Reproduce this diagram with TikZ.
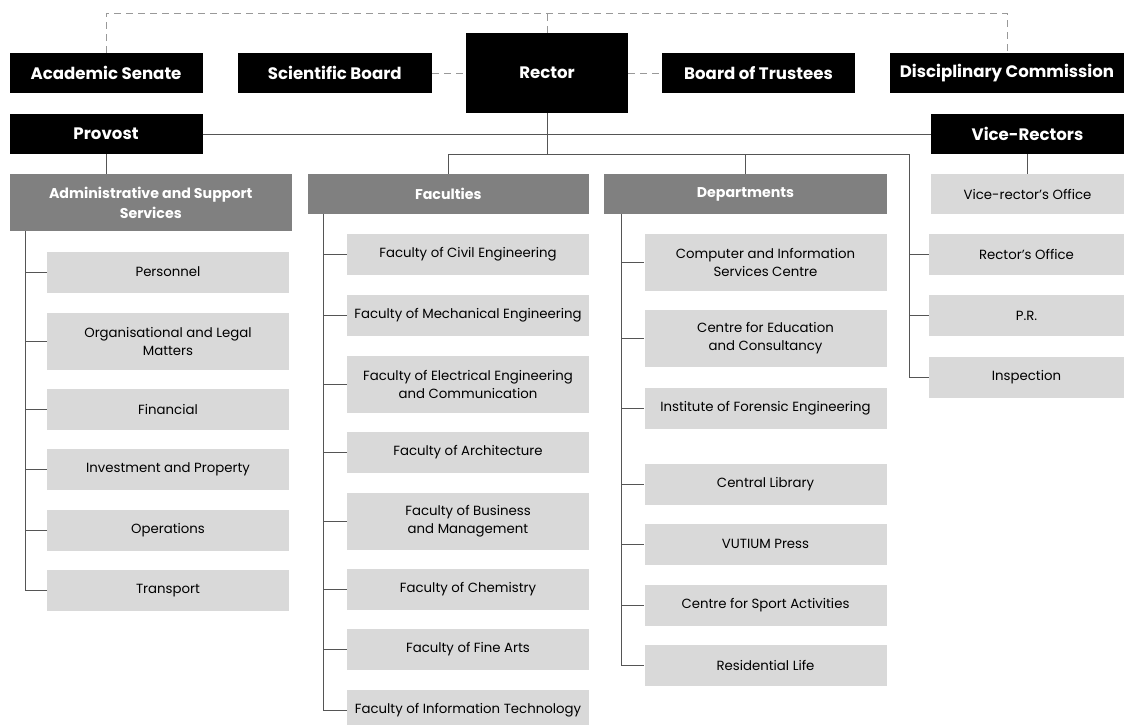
\documentclass[tikz,border=0pt]{standalone}
\usepackage{fontspec}
\setmainfont{Poppins}
\definecolor{hdrgray}{HTML}{808080}
\definecolor{ltgray}{HTML}{D9D9D9}
\definecolor{lnline}{HTML}{555555}
\definecolor{dashline}{HTML}{999999}
\tikzset{
  blk/.style={fill=black, text=white, inner sep=0pt, align=center, font=\bfseries\fontsize{16.6}{20}\selectfont},
  hdr/.style={fill=hdrgray, text=white, inner sep=0pt, align=center, font=\bfseries\fontsize{14.2}{20}\selectfont},
  lt/.style={fill=ltgray, text=black, inner sep=0pt, align=center, minimum width=242pt, font=\fontsize{13.3}{18}\selectfont},
  h40/.style={minimum height=41pt},
  h57/.style={minimum height=57pt},
  conn/.style={draw=lnline, line width=0.9pt},
  dconn/.style={draw=dashline, line width=0.9pt, dash pattern=on 7pt off 5pt},
}
\begin{document}
\begin{tikzpicture}[x=1pt, y=-1pt]
\useasboundingbox (0,0) rectangle (1124,725);
% top row
\node[blk, minimum width=193pt, minimum height=40pt] (senate) at (106,73) {Academic Senate};
\node[blk, minimum width=194.5pt, minimum height=40pt] (sci) at (334.75,73) {Scientific Board};
\node[blk, minimum width=162pt, minimum height=80pt] (rector) at (547,73) {Rector};
\node[blk, minimum width=193pt, minimum height=40pt] (trustees) at (758.5,73) {Board of Trustees};
\node[blk, minimum width=234pt, minimum height=40pt] (disc) at (1007,73) {Disciplinary Commission};
\node[blk, minimum width=193pt, minimum height=40pt] (provost) at (106,134) {Provost};
\node[blk, minimum width=193pt, minimum height=40pt] (vice) at (1027.5,134) {Vice-Rectors};
% headers
\node[hdr, minimum width=282.5pt, minimum height=57pt] (admin) at (150.75,202.5) {Administrative and Support\\Services};
\node[hdr, minimum width=281.5pt, minimum height=40pt] (fac) at (448.25,194) {Faculties};
\node[hdr, minimum width=283pt, minimum height=40pt] (dep) at (745.5,194) {Departments};
\node[lt, minimum width=193pt, minimum height=40pt] (vro) at (1027.5,194) {Vice-rector's Office};
% admin children
\node[lt, h40] (a1) at (168,272) {Personnel};
\node[lt, h57] (a2) at (168,341) {Organisational and Legal\\Matters};
\node[lt, h40] (a3) at (168,409.5) {Financial};
\node[lt, h40] (a4) at (168,469.5) {Investment and Property};
\node[lt, h40] (a5) at (168,530) {Operations};
\node[lt, h40] (a6) at (168,590.5) {Transport};
% faculty children
\node[lt, h40] (f1) at (468,254.5) {Faculty of Civil Engineering};
\node[lt, h40] (f2) at (468,315) {Faculty of Mechanical Engineering};
\node[lt, h57] (f3) at (468,384.5) {Faculty of Electrical Engineering\\and Communication};
\node[lt, h40] (f4) at (468,452.5) {Faculty of Architecture};
\node[lt, h57] (f5) at (468,521) {Faculty of Business\\and Management};
\node[lt, h40] (f6) at (468,589.5) {Faculty of Chemistry};
\node[lt, h40] (f7) at (468,649.5) {Faculty of Fine Arts};
\node[lt, h40] (f8) at (468,710.5) {Faculty of Information Technology};
% department children
\node[lt, h57] (d1) at (765.5,262.5) {Computer and Information\\Services Centre};
\node[lt, h57] (d2) at (765.5,338.5) {Centre for Education\\and Consultancy};
\node[lt, h40] (d3) at (765.5,408) {Institute of Forensic Engineering};
\node[lt, h40] (d4) at (765.5,484) {Central Library};
\node[lt, h40] (d5) at (765.5,544) {VUTIUM Press};
\node[lt, h40] (d6) at (765.5,605) {Centre for Sport Activities};
\node[lt, h40] (d7) at (765.5,665) {Residential Life};
% right column
\node[lt, minimum width=195pt, h40] (r1) at (1026.5,254.5) {Rector's Office};
\node[lt, minimum width=195pt, h40] (r2) at (1026.5,315.5) {P.R.};
\node[lt, minimum width=195pt, h40] (r3) at (1026.5,377) {Inspection};
% dashed connectors
\coordinate (dtop) at (0,13);
\draw[dconn] (senate.north) |- (dtop -| disc.north) -- (disc.north);
\draw[dconn] (rector.north) -- (rector.north |- dtop);
\draw[dconn] (sci) -- (rector);
\draw[dconn] (rector) -- (trustees);
% solid connectors
\draw[conn] (provost) -- (vice);
\coordinate (rb) at (909,154);
\draw[conn] (rector.south) -- (rector.south |- rb);
\draw[conn] (fac.north) |- (rb) |- (r3.west);
\draw[conn] (dep.north) -- (dep.north |- rb);
\draw[conn] (rb) |- (r1.west);
\draw[conn] (rb) |- (r2.west);
\draw[conn] (provost.south) -- (provost.south |- admin.north);
\draw[conn] (vice.south) -- (vro.north);
\coordinate (ab) at (25,231);
\foreach \c in {a1,a2,a3,a4,a5,a6} \draw[conn] (ab) |- (\c.west);
\coordinate (fb) at (323,214);
\foreach \c in {f1,f2,f3,f4,f5,f6,f7,f8} \draw[conn] (fb) |- (\c.west);
\coordinate (db) at (621,214);
\foreach \c in {d1,d2,d3,d4,d5,d6,d7} \draw[conn] (db) |- (\c.west);
\end{tikzpicture}
\end{document}
